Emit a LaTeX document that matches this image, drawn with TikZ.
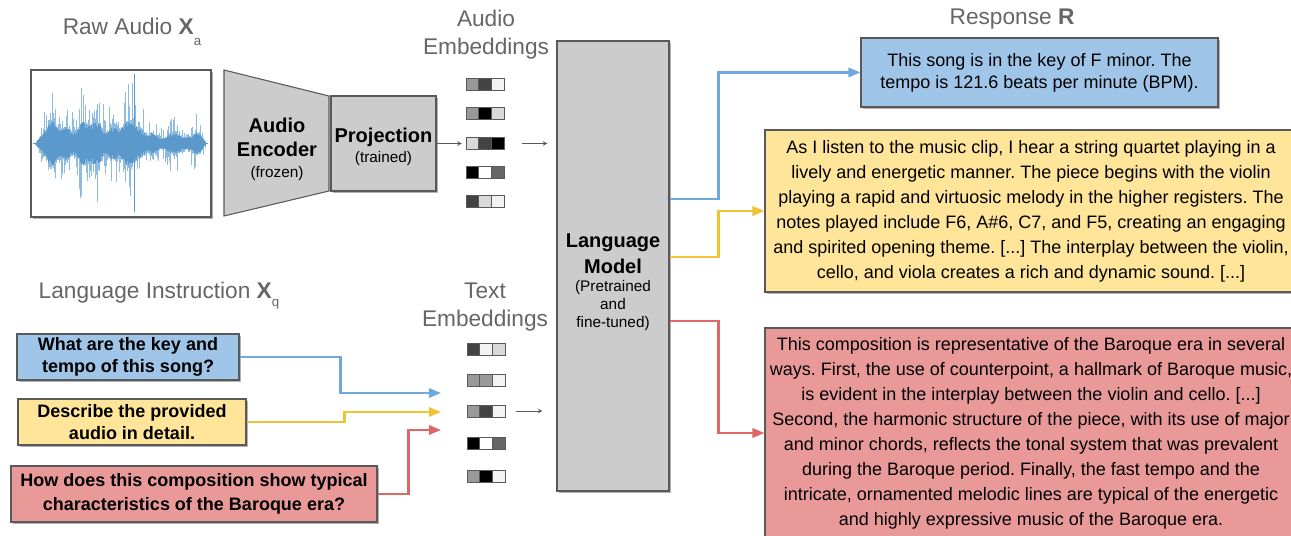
\documentclass[tikz,border=0pt]{standalone}
\usepackage{fontspec}
\setmainfont{Liberation Sans}
\usepackage{tikz}
\usetikzlibrary{arrows, arrows.meta, positioning, shadows}
\frenchspacing

\definecolor{titlegray}{HTML}{666666}
\definecolor{edgegray}{HTML}{595959}
\definecolor{boxgray}{HTML}{CCCCCC}
\definecolor{qblue}{HTML}{9FC5E8}
\definecolor{qyellow}{HTML}{FFE599}
\definecolor{qred}{HTML}{EA9999}
\definecolor{lblue}{HTML}{6FA8DC}
\definecolor{lyellow}{HTML}{F1C232}
\definecolor{lred}{HTML}{E06666}
\definecolor{wavelight}{HTML}{8DBBE2}
\definecolor{wavedark}{HTML}{5B98CC}
\definecolor{g0}{HTML}{000000}
\definecolor{g2}{HTML}{434343}
\definecolor{g4}{HTML}{666666}
\definecolor{g6}{HTML}{999999}
\definecolor{g8}{HTML}{D9D9D9}
\definecolor{g9}{HTML}{F3F3F3}
\definecolor{g10}{HTML}{FFFFFF}

\begin{document}
\begin{tikzpicture}[x=0.75pt, y=-0.75pt,
  declare function={wenv(\s)=(\s<48)*(\s-35)*2.6
     + and(\s>=48,\s<136)*(34+8*sin(9*\s)+5*sin(23*\s))
     + and(\s>=136,\s<150)*(34-(\s-136)*1.4)
     + and(\s>=150,\s<201)*(16+5*sin(15*\s))
     + (\s>=201)*(16-(\s-201)*3.2);},
  title/.style={text=titlegray, font=\fontsize{17}{21}\selectfont, align=center, inner sep=0pt},
  boldtext/.style={font=\bfseries\fontsize{15}{18}\selectfont, align=center, inner sep=0pt},
  smalltext/.style={font=\fontsize{11.5}{13.5}\selectfont, align=center, inner sep=0pt},
  boxshadow/.style={drop shadow={shadow xshift=1.2pt, shadow yshift=-1.2pt, fill=black, opacity=0.3}},
  graybox/.style={draw=edgegray, fill=boxgray, line width=0.8pt},
  question/.style={draw=edgegray, line width=0.8pt, boxshadow, align=center, inner sep=1pt, font=\bfseries\fontsize{13.5}{16.5}\selectfont},
  answer/.style={draw=edgegray, line width=0.8pt, boxshadow, align=center, inner sep=1pt, font=\fontsize{13.5}{18.75}\selectfont},
  cell/.style={draw=edgegray, line width=0.7pt, minimum width=9.5pt, minimum height=9pt, inner sep=0pt, outer sep=0pt},
  feed/.style={draw=edgegray, line width=0.6pt, ->, >=stealth},
  link/.style={line width=1.6pt, -{Triangle[length=9pt, width=7pt]}},
]
\useasboundingbox (0,0) rectangle (1291,535);
\fill[white] (0,0) rectangle (1291,535);

% raw audio
\node[title, anchor=base] (rawtitle) at (132,35) {Raw Audio \textbf{X}\raisebox{-8.25pt}{\fontsize{10}{10}\selectfont a}};
\node[draw=edgegray, line width=0.8pt, fill=white, boxshadow, minimum width=135pt, minimum height=110.25pt] (wave) at (121,143.5) {};
\pgfmathsetseed{11}
\foreach \x in {35.5,36.2,...,205.5} {
  \pgfmathsetmacro\wa{rnd}
  \pgfmathsetmacro\wb{rnd}
  \pgfmathsetmacro\wup{wenv(\x)*(0.5+1.0*\wa*\wa*\wa*\wa)}
  \pgfmathsetmacro\wdn{wenv(\x)*(0.5+1.0*\wb*\wb*\wb*\wb)}
  \draw[wavelight, line width=0.55pt] (\x,143.5-\wup) -- (\x,143.5+\wdn);
}
\foreach \x in {35.5,36.2,...,205.5} {
  \pgfmathsetmacro\wcore{wenv(\x)*(0.36+0.15*rnd)}
  \draw[wavedark, line width=0.6pt] (\x,143.5-\wcore) -- (\x,143.5+\wcore);
}
\draw[wavedark, line width=0.6pt] (33,143.5) -- (208,143.5);
\draw[wavedark, line width=0.7pt] (134.5,74) -- (134.5,212);

% encoder and projection
\draw[graybox] (224,70) -- (329,96) -- (329,191) -- (224,216) -- cycle;
\node[boldtext, anchor=north] (enc) at (277,118) {Audio\\Encoder};
\node[smalltext, anchor=base] (encnote) at (277,177) {(frozen)};
\node[graybox, boxshadow, minimum width=78.75pt, minimum height=71.25pt] (proj) at (383.5,143.5) {};
\node[boldtext, anchor=base] (projname) at (383.5,142) {Projection};
\node[smalltext, anchor=base] (projnote) at (383.5,162) {(trained)};

% language model
\node[graybox, boxshadow, minimum width=84pt, minimum height=337.5pt] (lm) at (613,266) {};
\node[boldtext, font=\bfseries\fontsize{15}{19.5}\selectfont, anchor=north] (lmname) at (613,233) {Language\\Model};
\node[smalltext, anchor=north] (lmnote) at (613,280) {(Pretrained\\and\\fine-tuned)};

% embeddings
\node[title, anchor=north] (audiotitle) at (486,10) {Audio\\Embeddings};
\node[title, anchor=north] (texttitle) at (485,283) {Text\\Embeddings};
\foreach \r/\y/\ca/\cb/\cc in {1/84/g6/g2/g9, 2/113/g6/g0/g8, 3/143.5/g8/g2/g0, 4/172/g0/g10/g4, 5/201/g2/g8/g9} {
  \node[cell, fill=\ca] (a\r1) at (472.3,\y) {};
  \node[cell, fill=\cb, right=0pt of a\r1] (a\r2) {};
  \node[cell, fill=\cc, right=0pt of a\r2] (a\r3) {};
}
\foreach \r/\y/\ca/\cb/\cc in {1/349/g2/g9/g8, 2/380/g6/g6/g9, 3/411/g6/g2/g9, 4/443/g0/g10/g4, 5/476/g6/g0/g9} {
  \node[cell, fill=\ca] (t\r1) at (473.3,\y) {};
  \node[cell, fill=\cb, right=0pt of t\r1] (t\r2) {};
  \node[cell, fill=\cc, right=0pt of t\r2] (t\r3) {};
}
\draw[feed] (proj.east) -- ([xshift=-3pt]a31.west);
\coordinate (aemb) at ([xshift=13.5pt]a33.east);
\draw[feed, shorten >=6.75pt] (aemb) -- (aemb -| lm.west);
\coordinate (temb) at ([xshift=8.25pt]t33.east);
\draw[feed, shorten >=10.5pt] (temb) -- (temb -| lm.west);

% instructions
\node[title, anchor=base] (langtitle) at (159,298) {Language Instruction \textbf{X}\raisebox{-6.5pt}{\fontsize{10}{10}\selectfont q}};
\node[question, fill=qblue, minimum width=166.5pt, minimum height=34.5pt] (qkey) at (128,357) {What are the key and\\tempo of this song?};
\node[question, fill=qyellow, minimum width=171pt, minimum height=34.5pt] (qdesc) at (132,422) {Describe the provided\\audio in detail.};
\node[question, fill=qred, minimum width=274.5pt, minimum height=42pt, font=\bfseries\fontsize{13.5}{18.5}\selectfont] (qbaroque) at (194,494) {How does this composition show typical\\characteristics of the Baroque era?};
\coordinate (inblue) at (441,393);
\coordinate (inyellow) at (441,412);
\coordinate (inred) at (441,430);
\draw[link, lblue] (qkey.east) -- ++(101,0) |- (inblue);
\draw[link, lyellow] (qdesc.east) -- ++(98,0) |- (inyellow);
\draw[link, lred] (qbaroque.east) -- ++(31,0) |- (inred);

% responses
\node[title, anchor=base] (resptitle) at (1012,25) {Response \textbf{R}};
\node[answer, fill=qblue, minimum width=267.75pt, minimum height=51.75pt, font=\fontsize{13.5}{16.5}\selectfont] (rkey) at (1039.5,72.5) {This song is in the key of F minor. The\\tempo is 121.6 beats per minute (BPM).};
\node[answer, fill=qyellow, minimum width=399pt, minimum height=121.5pt] (rdesc) at (1031,211) {As I listen to the music clip, I hear a string quartet playing in a\\
lively and energetic manner. The piece begins with the violin\\
playing a rapid and virtuosic melody in the higher registers. The\\
notes played include F6, A\#6, C7, and F5, creating an engaging\\
and spirited opening theme. [...] The interplay between the violin,\\
cello, and viola creates a rich and dynamic sound. [...]};
\node[answer, fill=qred, minimum width=399pt, minimum height=157.5pt] (rbaroque) at (1031,433) {This composition is representative of the Baroque era in several\\
ways. First, the use of counterpoint, a hallmark of Baroque music,\\
is evident in the interplay between the violin and cello. [...]\\
Second, the harmonic structure of the piece, with its use of major\\
and minor chords, reflects the tonal system that was prevalent\\
during the Baroque period. Finally, the fast tempo and the\\
intricate, ornamented melodic lines are typical of the energetic\\
and highly expressive music of the Baroque era.};
\coordinate (lmblue) at ([yshift=50.25pt]lm.east);
\coordinate (lmyellow) at ([yshift=6.75pt]lm.east);
\coordinate (lmred) at ([yshift=-41.25pt]lm.east);
\draw[link, lblue] (lmblue) -- ++(49,0) |- (rkey.west);
\draw[link, lyellow] (lmyellow) -- ++(49,0) |- (rdesc.west);
\draw[link, lred] (lmred) -- ++(49,0) |- (rbaroque.west);
\end{tikzpicture}
\end{document}
